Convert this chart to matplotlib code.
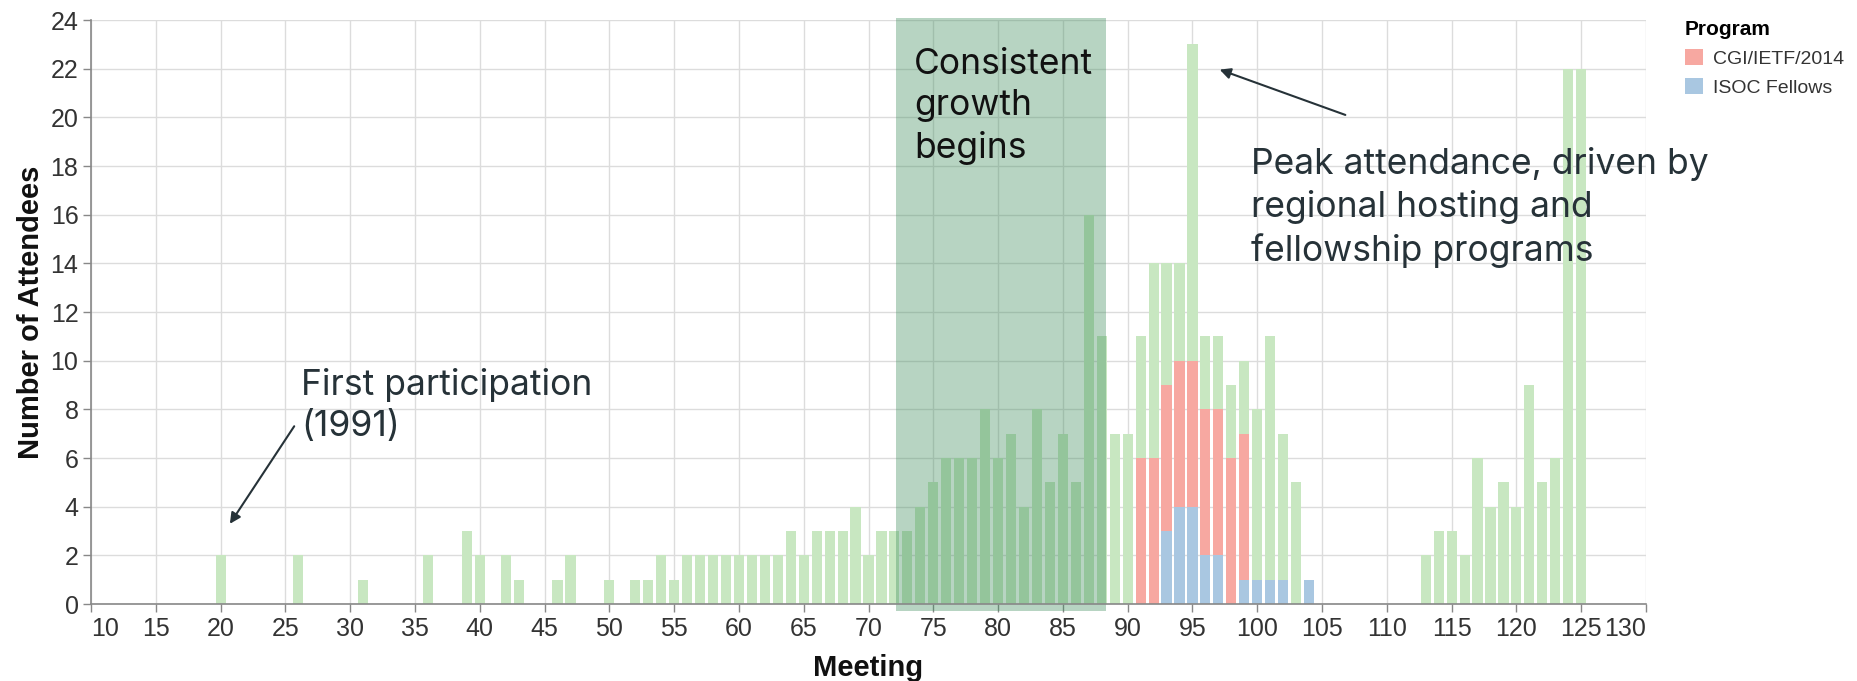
import matplotlib
matplotlib.use("Agg")
import matplotlib.pyplot as plt
from matplotlib.patches import Rectangle, Patch

# ---------------- data ----------------
meetings = [20, 26, 31, 36, 39, 40, 42, 43, 46, 47,
            50, 52, 53, 54, 55, 56, 57, 58, 59, 60,
            61, 62, 63, 64, 65, 66, 67, 68, 69, 70,
            71, 72, 73, 74, 75, 76, 77, 78, 79, 80,
            81, 82, 83, 84, 85, 86, 87, 88, 89, 90,
            91, 92, 93, 94, 95, 96, 97, 98, 99, 100,
            101, 102, 103, 104, 113, 114, 115, 116, 117, 118,
            119, 120, 121, 122, 123, 124, 125]
totals = [2, 2, 1, 2, 3, 2, 2, 1, 1, 2,
          1, 1, 1, 2, 1, 2, 2, 2, 2, 2,
          2, 2, 2, 3, 2, 3, 3, 3, 4, 2,
          3, 3, 3, 4, 5, 6, 6, 6, 8, 6,
          7, 4, 8, 5, 7, 5, 16, 11, 7, 7,
          11, 14, 14, 14, 23, 11, 11, 9, 10, 8,
          11, 7, 5, 1, 2, 3, 3, 2, 6, 4,
          5, 4, 9, 5, 6, 22, 22]

isoc_meetings = [93, 94, 95, 96, 97, 99, 100, 101, 102, 104]
isoc_values = [3, 4, 4, 2, 2, 1, 1, 1, 1, 1]

cgi_meetings = [91, 92, 93, 94, 95, 96, 97, 98, 99]
cgi_values = [6, 6, 6, 6, 6, 6, 6, 6, 6]

programs = ["CGI/IETF/2014", "ISOC Fellows"]
x_ticks = list(range(10, 131, 5))
y_ticks = list(range(0, 25, 2))

# ---------------- style ----------------
GREEN = "#c8e7c1"
RED = "#f7a8a1"
BLUE = "#a9c7e1"
HILITE = "#3c8c5a"
ANN = "#263238"
TICKFONT = "Liberation Sans"
ANNFONT = "Inter"
ANNSIZE = 25.5

fig = plt.figure(figsize=(18.57, 6.81), dpi=100)
ax = fig.add_axes([91 / 1857, 1 - 604 / 681, (1646 - 91) / 1857, (604 - 20) / 681])

bw = 0.78
ax.bar(meetings, totals, width=bw, color=GREEN, zorder=2, linewidth=0)
ax.bar(isoc_meetings, isoc_values, width=bw, color=BLUE, zorder=3, linewidth=0)
isoc_lookup = dict(zip(isoc_meetings, isoc_values))
cgi_bottom = [isoc_lookup.get(m, 0) for m in cgi_meetings]
ax.bar(cgi_meetings, cgi_values, bottom=cgi_bottom, width=bw, color=RED, zorder=3, linewidth=0)

# highlight band
ax.add_patch(Rectangle((72.1, -0.27), 88.3 - 72.1, 24.37, facecolor=HILITE, alpha=0.37,
                       linewidth=0, zorder=4, clip_on=False))

ax.set_xlim(10, 130)
ax.set_ylim(0, 24)
ax.set_xticks(x_ticks)
ax.set_yticks(y_ticks)
ax.grid(True, color="#dcdcdc", linewidth=1.0, zorder=0)
ax.set_axisbelow(True)
for s in ["top", "right"]:
    ax.spines[s].set_visible(False)
for s in ["left", "bottom"]:
    ax.spines[s].set_color("#888888")
    ax.spines[s].set_linewidth(1.2)
    ax.spines[s].set_zorder(5)
ax.tick_params(axis="both", length=6, width=1.0, color="#888888", pad=3,
               labelsize=18, labelcolor="#333333")
for lab in ax.get_xticklabels() + ax.get_yticklabels():
    lab.set_fontfamily(TICKFONT)
xl = ax.get_xticklabels()
xl[0].set_horizontalalignment("left")
xl[-1].set_horizontalalignment("right")

ax.set_xlabel("Meeting", fontsize=21, fontweight="bold", family=TICKFONT, color="#111111", labelpad=10)
ax.set_ylabel("Number of Attendees", fontsize=21, fontweight="bold", family=TICKFONT, color="#111111", labelpad=4)

# annotations
ax.text(26.2, 8.16, "First participation\n(1991)", fontsize=ANNSIZE, family=ANNFONT, color=ANN,
        ha="left", va="center", zorder=6, linespacing=1.33)
ax.annotate("", xy=(20.6, 3.2), xytext=(25.8, 7.4),
            arrowprops=dict(arrowstyle="-|>", color=ANN, lw=1.5, mutation_scale=16), zorder=6)

ax.text(73.5, 20.45, "Consistent\ngrowth\nbegins", fontsize=ANNSIZE, family=ANNFONT, color="#111111",
        ha="left", va="center", zorder=6, linespacing=1.33)

ax.text(99.55, 16.3, "Peak attendance, driven by\nregional hosting and\nfellowship programs",
        fontsize=ANNSIZE, family=ANNFONT, color=ANN, ha="left", va="center", zorder=6, linespacing=1.33)
ax.annotate("", xy=(96.9, 22.0), xytext=(107.0, 20.06),
            arrowprops=dict(arrowstyle="-|>", color=ANN, lw=1.5, mutation_scale=16), zorder=6)

# legend
handles = [Patch(facecolor=RED, edgecolor="none", label=programs[0]),
           Patch(facecolor=BLUE, edgecolor="none", label=programs[1])]
leg = fig.legend(handles=handles, title="Program", loc="upper left",
                 bbox_to_anchor=(1685 / 1857, 1 - 20 / 681), frameon=False,
                 prop={"family": TICKFONT, "size": 14},
                 title_fontproperties={"family": TICKFONT, "weight": "bold", "size": 15},
                 handlelength=0.95, handleheight=0.95, handletextpad=0.5,
                 labelspacing=0.5, borderpad=0, borderaxespad=0, alignment="left")
for t in leg.get_texts():
    t.set_color("#333333")

fig.savefig("out.png", dpi=100)
